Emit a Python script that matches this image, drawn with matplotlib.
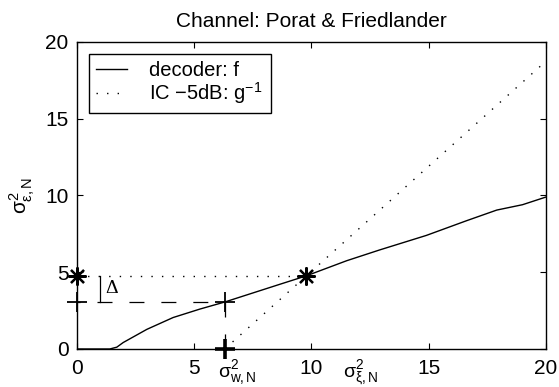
import matplotlib
matplotlib.use('Agg')
import matplotlib.pyplot as plt
import numpy as np

plt.rcParams['font.family'] = 'Liberation Sans'
plt.rcParams['mathtext.fontset'] = 'custom'
plt.rcParams['mathtext.rm'] = 'Liberation Sans'
plt.rcParams['mathtext.it'] = 'Liberation Sans'
plt.rcParams['lines.scale_dashes'] = False

# decoder characteristic f
dec_x = [0.0, 1.0, 1.4, 1.7, 1.97, 2.98, 4.1, 5.24, 6.3, 6.95, 8.66, 9.77,
         11.5, 12.9, 14.9, 16.6, 17.9, 19.0, 20.0]
dec_y = [0.0, 0.0, 0.0, 0.12, 0.42, 1.28, 2.05, 2.6, 3.06, 3.38, 4.22, 4.76,
         5.75, 6.45, 7.4, 8.35, 9.05, 9.4, 9.9]

# inverse IC characteristic g^-1 (straight line)
ic_x = [6.3, 20.0]
ic_y = [0.0, 18.75]

# operating points
sig_w = 6.3          # sigma^2_w,N
f_at_w = 3.06        # decoder output at sigma^2_w,N
fixed_x = 9.77       # crossing point
fixed_y = 4.76

xticks = [0, 5, 10, 15, 20]
yticks = [0, 5, 10, 15, 20]

FS = 15
DOT = (0, (1.0, 6.6))

fig = plt.figure(figsize=(5.59, 3.87), dpi=100)
ax = fig.add_axes([0.1377, 0.0982, 0.8390, 0.7933])

ax.plot(dec_x, dec_y, color='k', lw=1.0, label='decoder: f')
ax.plot(ic_x, ic_y, color='k', lw=1.0, linestyle=DOT,
        label='IC \u22125dB: g$^{-1}$ ')

# helper lines
ax.plot([0, fixed_x], [fixed_y, fixed_y], color='k', lw=1.0, linestyle=DOT)
ax.plot([0, sig_w], [f_at_w, f_at_w], color='k', lw=0.9,
        linestyle=(8.6, (10.8, 12.2)))
ax.plot([sig_w, sig_w], [f_at_w, 0], color='k', lw=0.9,
        linestyle=(0, (10.8, 12.2)))

# delta bracket
ax.plot([1.0, 1.0], [fixed_y, f_at_w], color='k', lw=0.9)
ax.text(1.2, (fixed_y + f_at_w) / 2, '\u0394', fontfamily='Liberation Serif',
        fontsize=14, ha='left', va='center')

# markers
ax.plot([0, fixed_x], [fixed_y, fixed_y], linestyle='none', marker=(8, 2, 0),
        ms=13, mew=1.6, color='k', clip_on=False)
ax.plot([0, sig_w], [f_at_w, f_at_w], linestyle='none', marker='+',
        ms=14.5, mew=1.3, color='k', clip_on=False)
ax.plot([sig_w], [0], linestyle='none', marker='+',
        ms=14.5, mew=2.6, color='k', clip_on=False)

ax.set_xlim(0, 20)
ax.set_ylim(0, 20)
ax.set_xticks(xticks)
ax.set_yticks(yticks)
ax.tick_params(direction='in', length=4, width=0.8, top=True, right=True,
               labelsize=FS)
ax.tick_params(axis='x', pad=7)
ax.tick_params(axis='y', pad=6)
for s in ax.spines.values():
    s.set_linewidth(1.0)

trans = ax.get_xaxis_transform()
ax.text(6.0, -0.09, r'$\sigma^2_{w,N}$', transform=trans, fontsize=14,
        ha='left', va='baseline')
ax.text(11.35, -0.09, r'$\sigma^2_{\xi,N}$', transform=trans, fontsize=14,
        ha='left', va='baseline')
ax.set_ylabel(r'$\sigma^2_{\epsilon,N}$', fontsize=FS, labelpad=6)

ax.set_title('Channel: Porat & Friedlander', fontsize=FS, pad=11)

leg = ax.legend(loc='upper left', bbox_to_anchor=(0.0256, 0.961),
                borderaxespad=0, fontsize=14.5, fancybox=False, framealpha=1,
                edgecolor='k', handlelength=1.55, handletextpad=1.1,
                labelspacing=0.0, borderpad=0.35)
leg.get_frame().set_linewidth(1.0)

fig.savefig('out.png', dpi=100)
